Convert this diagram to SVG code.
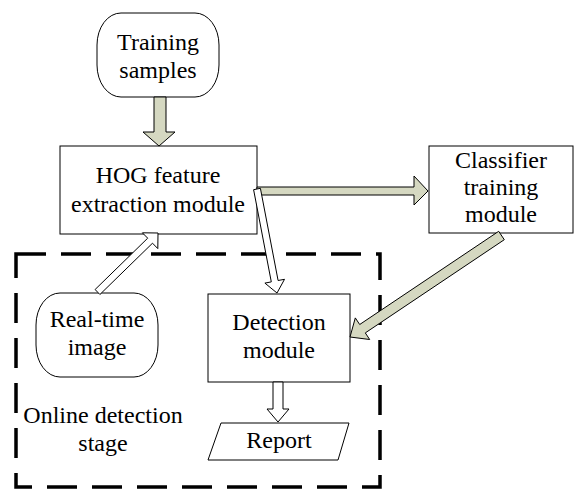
<svg xmlns="http://www.w3.org/2000/svg" width="576" height="490" viewBox="0 0 576 490">
<style>
.box{fill:#fff;stroke:#000;stroke-width:1}
.t{font-family:'Liberation Serif','Times New Roman','DejaVu Serif',serif;font-size:24px;fill:#000;text-anchor:middle}
.olive{fill:#d5d8c1;stroke:#000;stroke-width:1;stroke-linejoin:miter}
.white{fill:#fff;stroke:#000;stroke-width:1}
.dash{fill:none;stroke:#000;stroke-width:3.5;stroke-dasharray:30 15}
</style>
<rect width="576" height="490" fill="#fff"/>
<g id="stage">
<rect class="dash" x="16" y="254" width="364" height="233"/>
<text class="t" font-family="Liberation Serif" x="103" y="423">Online detection</text>
<text class="t" font-family="Liberation Serif" x="103" y="451">stage</text>
</g>
<g id="training">
<rect class="box" x="97" y="13" width="122" height="84" rx="24" ry="32"/>
<text class="t" font-family="Liberation Serif" x="158" y="50">Training</text>
<text class="t" font-family="Liberation Serif" x="158" y="78">samples</text>
</g>
<g id="hog">
<rect class="box" x="60" y="146" width="197" height="88"/>
<text class="t" font-family="Liberation Serif" x="158" y="183">HOG feature</text>
<text class="t" font-family="Liberation Serif" x="158" y="212">extraction module</text>
</g>
<g id="classifier">
<rect class="box" x="429" y="146" width="144" height="87"/>
<text class="t" font-family="Liberation Serif" x="501" y="168">Classifier</text>
<text class="t" font-family="Liberation Serif" x="501" y="195">training</text>
<text class="t" font-family="Liberation Serif" x="501" y="222">module</text>
</g>
<g id="realtime">
<rect class="box" x="36" y="293" width="122" height="84" rx="24" ry="32"/>
<text class="t" font-family="Liberation Serif" x="97" y="327">Real-time</text>
<text class="t" font-family="Liberation Serif" x="97" y="355">image</text>
</g>
<g id="detection">
<rect class="box" x="208" y="294" width="142" height="88"/>
<text class="t" font-family="Liberation Serif" x="279" y="330">Detection</text>
<text class="t" font-family="Liberation Serif" x="279" y="358">module</text>
</g>
<g id="report">
<polygon class="box" points="221,423 349,423 338,460 208,460"/>
<text class="t" font-family="Liberation Serif" x="279" y="448">Report</text>
</g>
<g id="connectors">
<polygon class="olive" points="154,97 166,97 166,132 175,132 159,146 143,132 154,132"/>
<polygon class="olive" points="257,187 414,187 414,176 428,191 414,205 414,195 257,195"/>
<polygon class="olive" points="498.7,231.3 359.7,324.5 355.3,317.9 350,337 369.7,339.5 365.3,332.9 504.3,239.7"/>
<polygon class="white" points="95.1,289.5 147.7,238.2 142.4,232.8 158,233 157.8,248.6 152.5,243.2 99.9,294.5"/>
<polygon class="white" points="253.6,189.7 271.3,281.9 264.9,283.1 277,293 284.5,279.3 278.1,280.5 260.4,188.3"/>
<polygon class="white" points="273,382 283,382 283,409 289,409 278,422 267,409 273,409"/>
</g>
</svg>
